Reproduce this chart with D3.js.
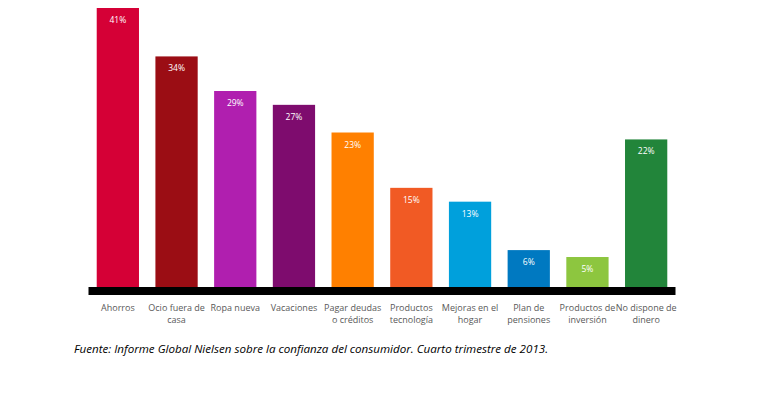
<!DOCTYPE html>
<html>
<head>
<meta charset="utf-8">
<script src="https://cdn.jsdelivr.net/npm/d3@7"></script>
<style>
  body { margin: 0; background: #fff; }
  text { font-family: "Open Sans", "Noto Sans", sans-serif; }
</style>
</head>
<body>
<script>
var categories = ["Ahorros", "Ocio fuera de|casa", "Ropa nueva", "Vacaciones", "Pagar deudas|o créditos",
    "Productos|tecnología", "Mejoras en el|hogar", "Plan de|pensiones", "Productos de|inversión", "No dispone de|dinero"]
var values = [41, 34, 29, 27, 23, 15, 13, 6, 5, 22]
var barColors = ["#d50036", "#9b0d14", "#b01faf", "#7e0c6e", "#ff8000",
    "#f15a24", "#00a0dc", "#0079c1", "#8dc63f", "#22853a"]
var source = "Fuente: Informe Global Nielsen sobre la confianza del consumidor. Cuarto trimestre de 2013."

var width = 765
var height = 397

var svg = d3.select("body")
    .append("svg")
    .attr("width", width)
    .attr("height", height)

var x = d3.scaleBand()
    .domain(categories)
    .range([88.5, 675.5])
    .paddingInner(0.28)
    .paddingOuter(0.14)

var y = d3.scaleLinear()
    .domain([0, 41])
    .range([291.6, 8])

svg.selectAll(".bar")
    .data(values)
    .enter()
    .append("rect")
    .attr("class", "bar")
    .attr("x", (d, i) => x(categories[i]))
    .attr("y", (d) => y(d))
    .attr("width", x.bandwidth())
    .attr("height", (d) => y(0) - y(d))
    .attr("fill", (d, i) => barColors[i])

svg.selectAll(".val")
    .data(values)
    .enter()
    .append("text")
    .attr("class", "val")
    .attr("x", (d, i) => x(categories[i]) + x.bandwidth() / 2)
    .attr("y", (d) => y(d) + 15)
    .attr("text-anchor", "middle")
    .attr("font-size", 8.5)
    .attr("fill", "white")
    .text((d) => d + "%")

// thick black baseline
svg.append("rect")
    .attr("x", 88.5)
    .attr("y", 287)
    .attr("width", 587)
    .attr("height", 8)
    .attr("fill", "black")

var labels = svg.selectAll(".cat")
    .data(categories)
    .enter()
    .append("text")
    .attr("class", "cat")
    .attr("text-anchor", "middle")
    .attr("font-size", 9)
    .attr("fill", "#595959")
    .attr("transform", (d) => "translate(" + (x(d) + x.bandwidth() / 2) + ",311)")

labels.selectAll("tspan")
    .data((d) => d.split("|"))
    .enter()
    .append("tspan")
    .attr("x", 0)
    .attr("dy", (d, i) => i === 0 ? 0 : 12)
    .text((d) => d)

svg.append("text")
    .attr("x", 74)
    .attr("y", 353)
    .attr("font-size", 11.6)
    .attr("font-style", "italic")
    .attr("fill", "black")
    .text(source)
</script>
</body>
</html>
